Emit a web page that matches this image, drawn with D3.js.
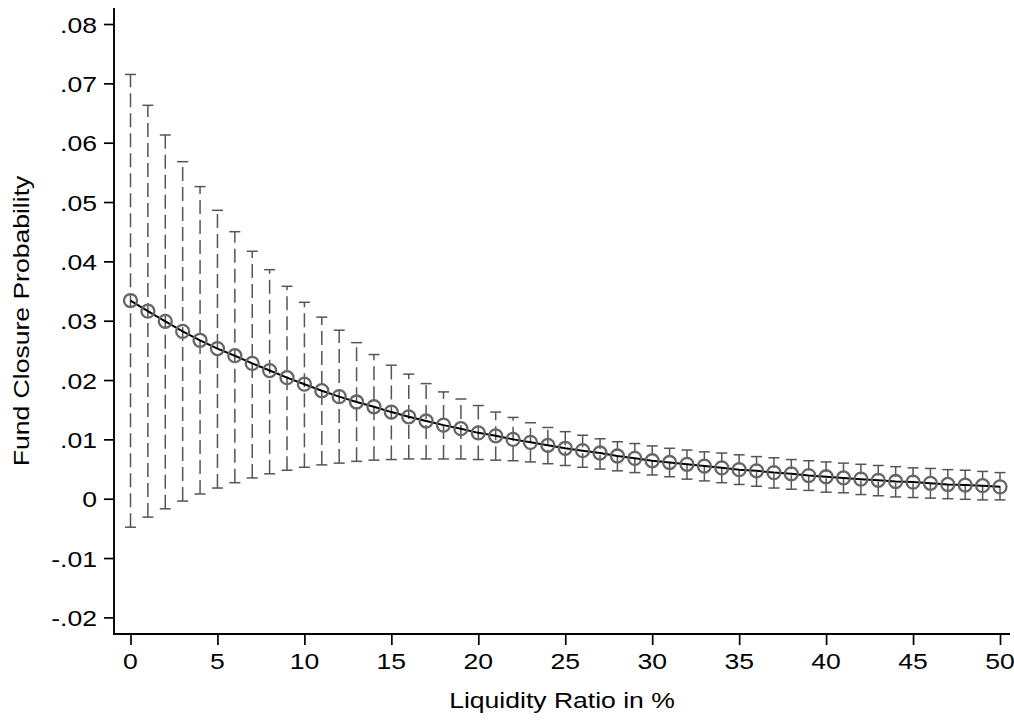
<!DOCTYPE html>
<html>
<head>
<meta charset="utf-8">
<script src="https://cdn.jsdelivr.net/npm/d3@7"></script>
<style>
body { margin: 0; background: #fff; }
text { font-family: "Liberation Sans", Arial, sans-serif; fill: #000; }
</style>
</head>
<body>
<svg id="chart" width="1014" height="721"></svg>
<script>
var ratio = d3.range(0, 51);
var est = [.0334, .0316, .0299, .0282, .0267, .0253, .0241, .0228, .0216, .0204,
	.0193, .0182, .0172, .0163, .0155, .0146, .0138, .0131, .0124, .0118,
	.0111, .0106, .0100, .0095, .0090, .0085, .0081, .0077, .0072, .0068,
	.0064, .0061, .0058, .0055, .0052, .0049, .0047, .0044, .0042, .0039,
	.0037, .0035, .0033, .0031, .0029, .0028, .0026, .0024, .0023, .0022, .0020];
var upper = [.0715, .0663, .0613, .0568, .0526, .0486, .0450, .0417, .0386, .0358,
	.0331, .0306, .0284, .0263, .0243, .0225, .0210, .0194, .0180, .0168,
	.0157, .0146, .0137, .0128, .0120, .0113, .0107, .0101, .0096, .0093,
	.0089, .0085, .0082, .0079, .0077, .0074, .0071, .0069, .0066, .0064,
	.0062, .0060, .0058, .0056, .0054, .0052, .0051, .0049, .0048, .0046, .0044];
var lower = [-.0048, -.0031, -.0017, -.0004, .0008, .0018, .0027, .0035, .0042, .0048,
	.0053, .0057, .0060, .0063, .0065, .0066, .0067, .0067, .0067, .0067,
	.0066, .0065, .0064, .0062, .0059, .0056, .0053, .0050, .0047, .0044,
	.0040, .0037, .0033, .0030, .0027, .0024, .0021, .0018, .0016, .0014,
	.0011, .0010, .0007, .0005, .0003, .0002, .0001, .0000, -.0001, -.0002, -.0002];
var yTicks = [-.02, -.01, 0, .01, .02, .03, .04, .05, .06, .07, .08];
var xTicks = [0, 5, 10, 15, 20, 25, 30, 35, 40, 45, 50];
var xTitle = 'Liquidity Ratio in %';
var yTitle = 'Fund Closure Probability';

var svg = d3.select('#chart');
var plotL = 114, plotR = 1010, plotT = 8, plotB = 634;
var fs = '22.5px', stretch = 1.18; // the original font is wider than Arial

var x = d3.scaleLinear().domain([0, 50]).range([130.5, 1000]);
var y = d3.scaleLinear().domain([-.0228, .0827]).range([plotB, plotT]);

var fmt = function(d) {
	if (d == 0) return '0';
	return (d < 0 ? '-' : '') + d3.format('.2f')(Math.abs(d)).replace('0.', '.');
};

// axes
var yAxis = svg.append('g').attr('transform', 'translate(' + plotL + ',0)')
	.call(d3.axisLeft(y).tickValues(yTicks).tickSize(10).tickFormat(''));
var xAxis = svg.append('g').attr('transform', 'translate(0,' + plotB + ')')
	.call(d3.axisBottom(x).tickValues(xTicks).tickSize(11).tickFormat(''));
[yAxis, xAxis].forEach(function(a) {
	a.select('.domain').remove();
	a.selectAll('.tick line').attr('stroke', '#000').attr('stroke-width', 1.7);
});
svg.append('line').attr('x1', plotL).attr('x2', plotL).attr('y1', plotT).attr('y2', plotB + 1)
	.attr('stroke', '#000').attr('stroke-width', 1.9);
svg.append('line').attr('x1', plotL - 1).attr('x2', plotR).attr('y1', plotB).attr('y2', plotB)
	.attr('stroke', '#000').attr('stroke-width', 1.9);

yTicks.forEach(function(d) {
	svg.append('text')
		.attr('transform', 'translate(97,' + (y(d) + 8.5) + ') scale(' + stretch + ',1)')
		.style('text-anchor', 'end')
		.style('font-size', fs)
		.text(fmt(d));
});
xTicks.forEach(function(d) {
	svg.append('text')
		.attr('transform', 'translate(' + x(d) + ',669) scale(' + stretch + ',1)')
		.style('text-anchor', 'middle')
		.style('font-size', fs)
		.text(d);
});
svg.append('text')
	.attr('transform', 'translate(' + ((plotL + plotR) / 2) + ',708) scale(' + stretch + ',1)')
	.style('text-anchor', 'middle')
	.style('font-size', fs)
	.text(xTitle);
svg.append('text')
	.attr('transform', 'translate(29,' + ((plotT + plotB) / 2) + ') rotate(-90) scale(' + stretch + ',1)')
	.style('text-anchor', 'middle')
	.style('font-size', fs)
	.text(yTitle);

// confidence intervals
var bars = svg.append('g').attr('stroke', '#555').attr('stroke-width', 1.5);
ratio.forEach(function(d, i) {
	bars.append('line')
		.attr('x1', x(d)).attr('x2', x(d))
		.attr('y1', y(lower[i])).attr('y2', y(upper[i]))
		.attr('stroke-dasharray', '14,6');
	[lower[i], upper[i]].forEach(function(v) {
		bars.append('line')
			.attr('x1', x(d) - 5.5).attr('x2', x(d) + 5.5)
			.attr('y1', y(v)).attr('y2', y(v));
	});
});

// point estimates
var line = d3.line()
	.x(function(d, i) { return x(ratio[i]); })
	.y(function(d) { return y(d); });
svg.append('path').datum(est)
	.attr('d', line)
	.attr('fill', 'none')
	.attr('stroke', '#000')
	.attr('stroke-width', 2);
svg.append('g').selectAll('circle')
	.data(est)
	.enter().append('circle')
	.attr('cx', function(d, i) { return x(ratio[i]); })
	.attr('cy', function(d) { return y(d); })
	.attr('r', 6.5)
	.attr('fill', 'none')
	.attr('stroke', '#666')
	.attr('stroke-width', 2.3);
</script>
</body>
</html>
